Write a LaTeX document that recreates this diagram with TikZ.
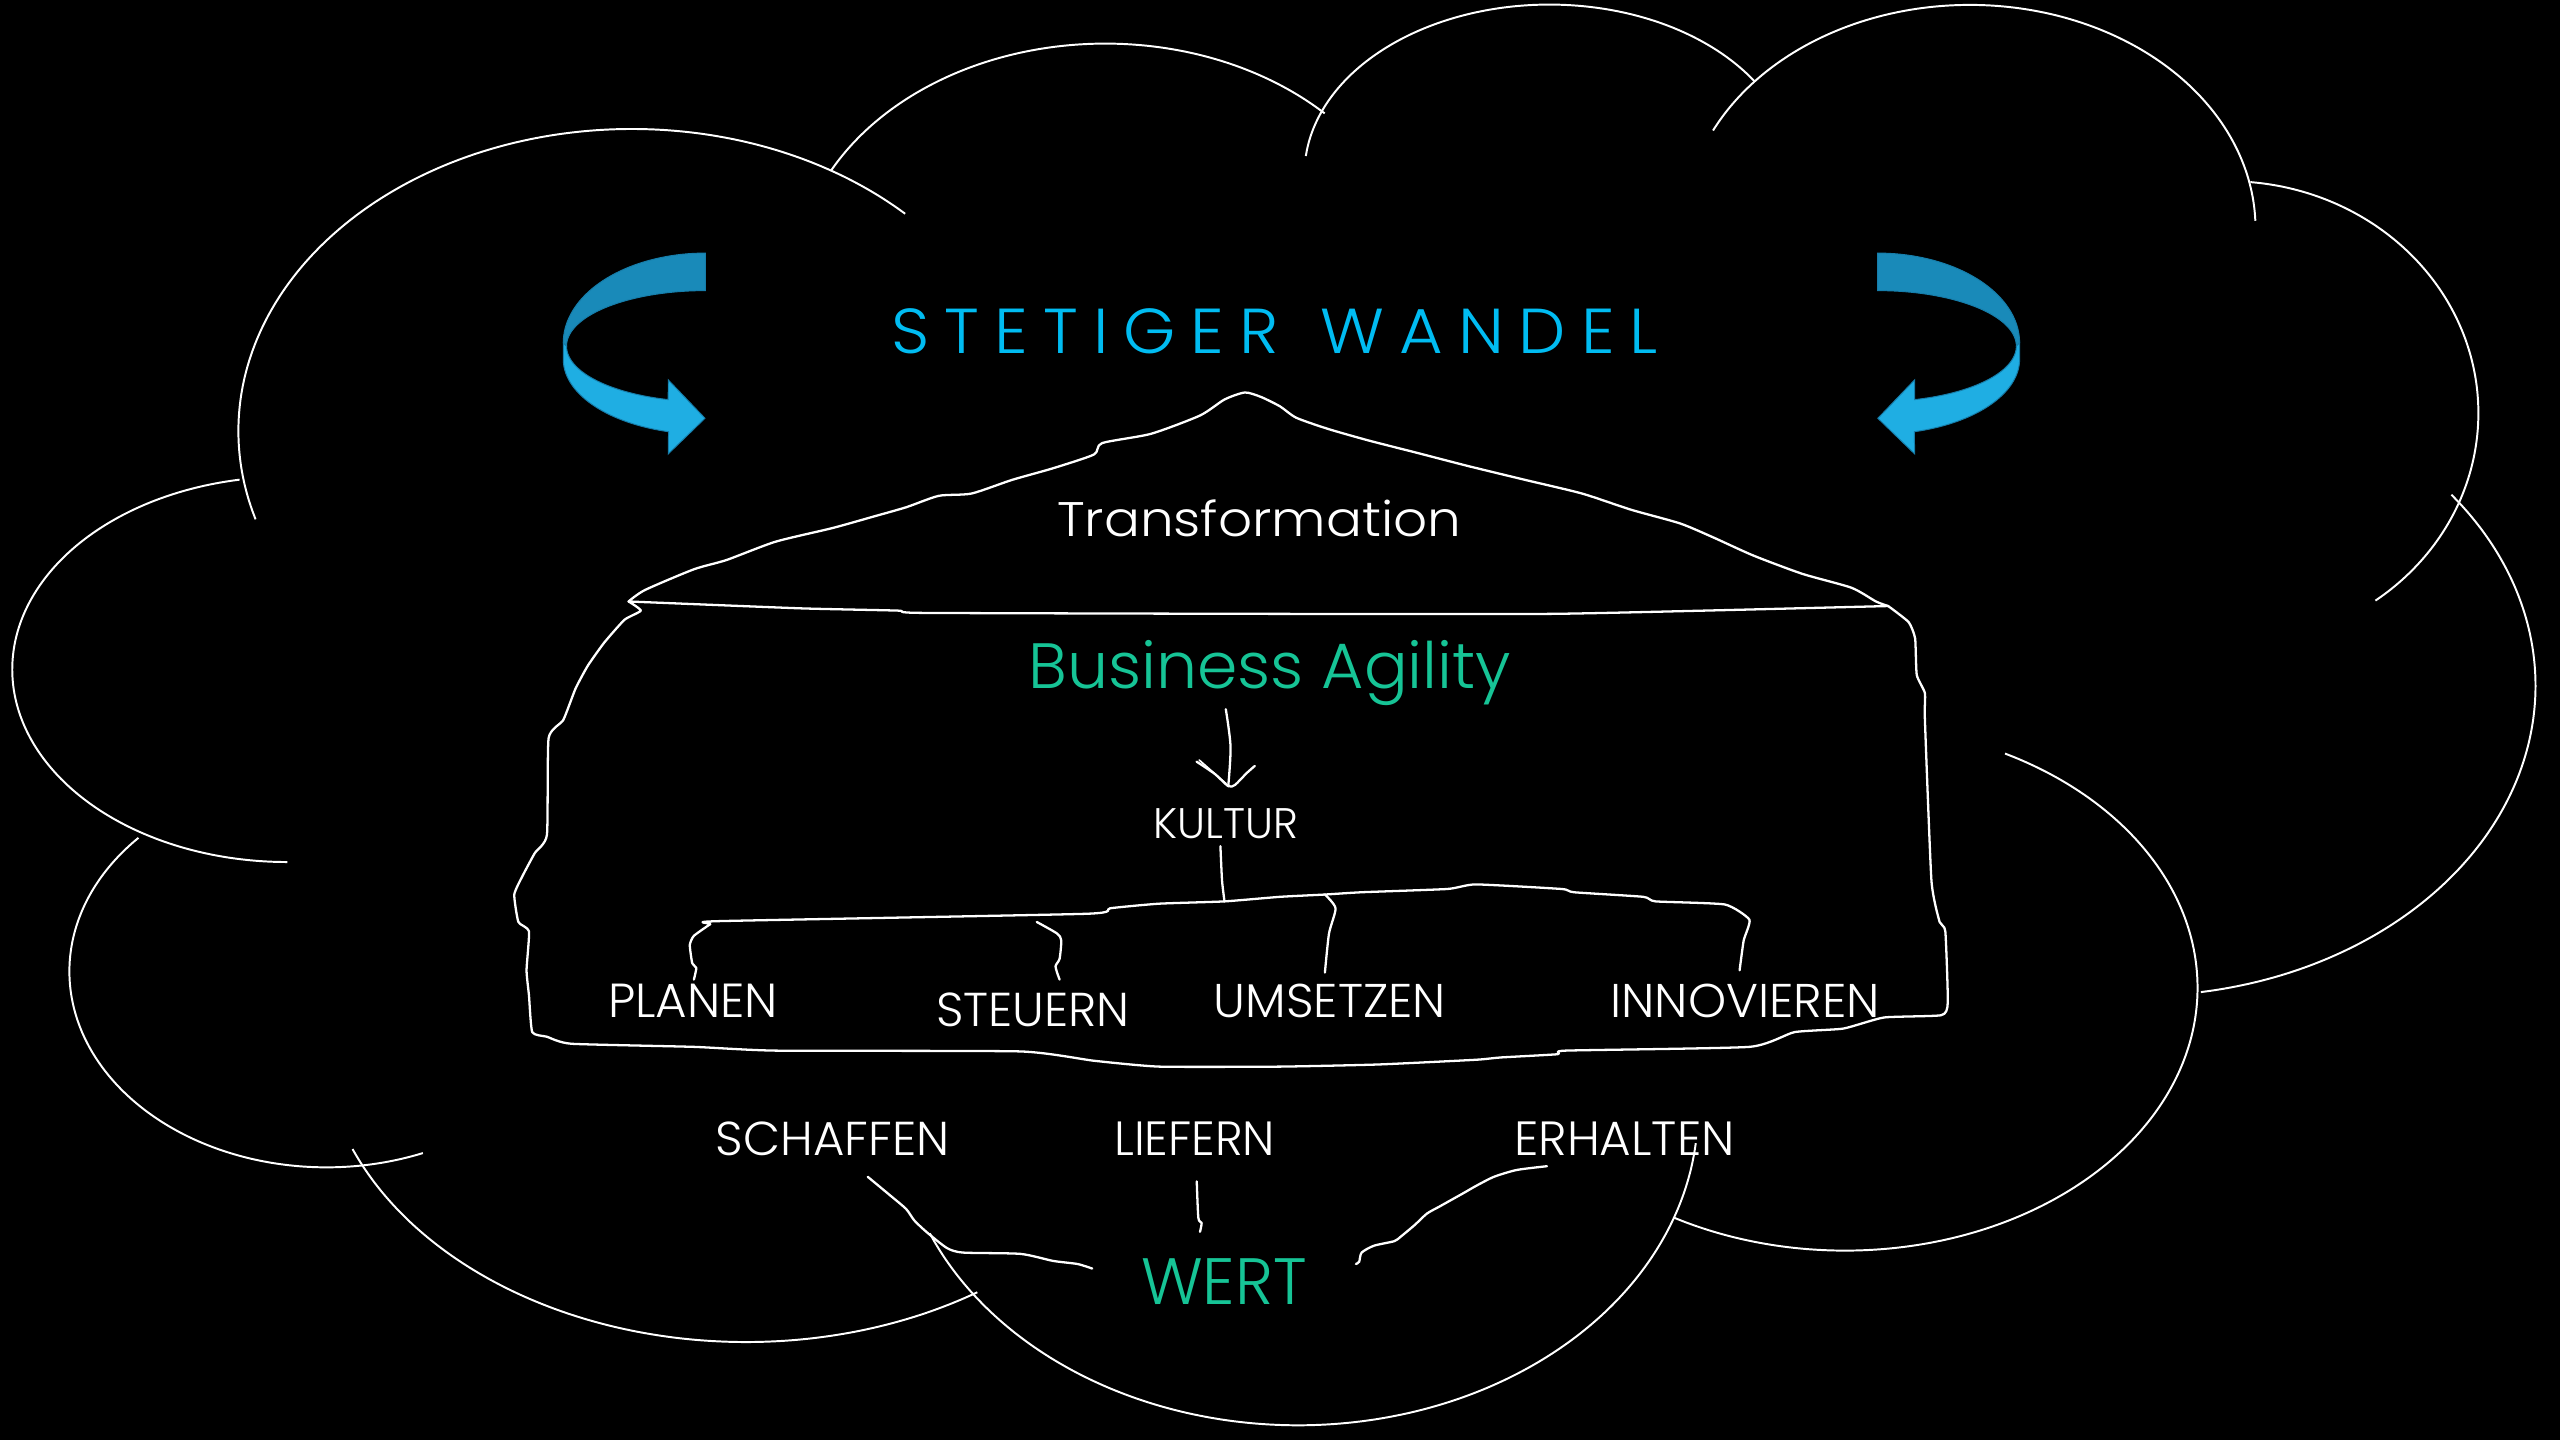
\documentclass[tikz,border=0pt]{standalone}
\usepackage{fontspec}
\usepackage{graphicx}
\IfFontExistsTF{Poppins Light}{\newfontfamily\pf{Poppins Light}}{\newfontfamily\pf{Poppins}}
\definecolor{ttl}{RGB}{0,188,242}
\definecolor{grn}{RGB}{22,196,150}
\definecolor{bdark}{RGB}{25,138,185}
\definecolor{blight}{RGB}{31,174,227}
\definecolor{bedge}{RGB}{22,125,170}
\newcommand\fitbox[3]{\resizebox{#1pt}{#2pt}{#3}}
\newcommand\K{\kern 9pt}
\newcommand\carc[6]{\draw[cloud] plot[domain=#5:#6, samples=90, smooth] ({#1+#3*cos(\x)},{#2+#4*sin(\x)});}
\newcommand\curvedarrow{%
 \filldraw[bdark, draw=bedge, line width=0.6pt] plot[domain=270:180, samples=40] ({432+87*cos(\x)},{210+55*sin(\x)}) -- plot[domain=180:270, samples=40] ({432+85*cos(\x)},{212+34*sin(\x)}) -- cycle;
 \filldraw[blight, draw=bedge, line width=0.6pt] (345,210) -- plot[domain=180:105, samples=40] ({432+87*cos(\x)},{220+46*sin(\x)}) -- (409.3,278) -- (431.8,256.2) -- (409.3,232.7) -- plot[domain=105.5:180, samples=40] ({432+85*cos(\x)},{212+34*sin(\x)}) -- cycle;
}
\begin{document}
\begin{tikzpicture}[x=1pt,y=-1pt,
  cloud/.style={draw=white, line width=1.2pt},
  hand/.style={draw=white, line width=1.4pt, line join=round, line cap=round},
  lbl/.style={anchor=base west, inner sep=0pt, outer sep=0pt, text=white, font=\pf\fontsize{40}{40}\selectfont}]
\fill[black] (0,0) rectangle (1568,882);
\useasboundingbox (0,0) rectangle (1568,882);

% cloud
\carc{387}{264}{241}{185}{163}{314}
\carc{677}{172.7}{190}{146}{208}{315}
\carc{949}{106.4}{150}{103.6}{186}{327}
\carc{1206.5}{140}{175}{137}{206}{358}
\carc{1365}{253}{153}{142}{275}{414}
\carc{1310}{420}{243}{190}{-38}{81}
\carc{1130}{605}{216}{161}{-63}{119}
\carc{795}{680}{245}{193}{6}{157}
\carc{457}{633}{260}{189}{57}{158}
\carc{200}{595}{157.5}{120}{68}{223}
\carc{176}{410}{168.5}{118}{260}{90}

% curved arrows
\curvedarrow
\begin{scope}[shift={(1582,0)}, xscale=-1]
\curvedarrow
\end{scope}

% texts
\node[lbl, text=ttl] (title) at (546,216.5) {\fitbox{469.5}{27.5}{S\K T\K E\K T\K I\K G\K E\K R\K\kern16pt W\K A\K N\K D\K E\K L}};
\node[lbl] (trans) at (647.5,328.5) {\fitbox{247.5}{22.5}{Transformation}};
\node[lbl, text=grn] (ba) at (630,421.8) {\fitbox{295.5}{29.5}{Business Agility}};
\node[lbl] (kultur) at (706.5,513.6) {\fitbox{88.5}{18.3}{KULTUR}};
\node[lbl] (planen) at (372.5,623.2) {\fitbox{104}{20.5}{PLANEN}};
\node[lbl] (steuern) at (573.5,628.9) {\fitbox{118.5}{20.6}{STEUERN}};
\node[lbl] (umsetzen) at (743.5,623.2) {\fitbox{142}{20.5}{UMSETZEN}};
\node[lbl] (innov) at (986.5,623.2) {\fitbox{165}{20.5}{INNOVIEREN}};
\node[lbl] (schaffen) at (438.5,707.6) {\fitbox{143}{20.6}{SCHAFFEN}};
\node[lbl] (liefern) at (682.5,707.6) {\fitbox{98.5}{20.6}{LIEFERN}};
\node[lbl] (erhalten) at (927.5,707.6) {\fitbox{135}{20.6}{ERHALTEN}};
\node[lbl, text=grn] (wert) at (699,798.7) {\fitbox{101.5}{28.1}{WERT}};

% house: roof
\coordinate (roofL) at (385,368.4);
\coordinate (roofR) at (1156.5,371.2);
\draw[hand] plot[smooth, tension=0.4] coordinates {(roofL) (395,361.4) (425,348.7) (445,343) (475,331.8) (510,323.4) (535,316.4) (555,310.7) (575,303.7) (595,302.3) (620,293.9) (645,286.8) (670,278.4) (675,271.4) (705,265.7) (735,254.5) (750,244.7) (762.5,240.4) (772.5,243.2) (784,248.9) (794,255.9) (814,262.9) (839,270) (866.5,277) (899,285.4) (934,293.9) (969,302.3) (999,312.2) (1029,320.6) (1049,329) (1074,340.3) (1104,351.5) (1134,360) (1149,368.4) (roofR)};
\draw[hand] plot[smooth, tension=0.3] coordinates {(roofL) (490,372.6) (550,374) (565,375.4) (784,376) (949,376) (1044,374) (roofR)};
% house: walls and floor
\draw[hand] plot[smooth, tension=0.3] coordinates {(roofL) (392.5,374) (382.5,379.6) (370,393.7) (360,407.8) (352.5,421.8) (345,441) (336,452.2) (335,511.3) (327.5,522.6) (320,536.6) (315,547.9) (317.5,564.7) (324,570.4) (322.5,594.3) (324,609.7) (326,632.2) (335,635) (350,639.3) (425,641.2) (475,643.5) (625,644) (670,649.7) (710,653.3) (784,653.3) (844,652) (904,649.1) (919,647.7) (954,645.7) (959,643.5) (1071.5,641.2) (1099,632.2) (1129,630) (1154,623.2) (1189,621.8) (1193,614) (1191.5,570.4) (1188,564.7) (1183,539.4) (1179,441) (1179,424.6) (1174,413.4) (1173,391) (1169,381) (roofR)};

% Business Agility -> KULTUR
\coordinate (baS) at (750.8,434.4);
\coordinate (kuN) at (752.3,481.5);
\draw[hand] plot[smooth, tension=0.5] coordinates {(baS) (753.7,457.3) (kuN)};
\draw[hand] plot[smooth, tension=0.4] coordinates {(732.9,466.5) (744,474) (kuN) (756.4,480.8) (763.5,473.6) (768.6,469.1)};
\draw[hand, line width=1pt] (734.5,465.5) -- (751,480);

% tree under KULTUR
\coordinate (kuS) at (747.5,518.3);
\coordinate (br) at (750,552.1);
\coordinate (plN) at (425,600);
\coordinate (inN) at (1065.5,594.3);
\coordinate (stN) at (649,600);
\coordinate (umN) at (811.5,595.7);
\draw[hand] plot[smooth, tension=0.4] coordinates {(kuS) (748.5,539.4) (br)};
\draw[hand] plot[smooth, tension=0.3] coordinates {(plN) (426.5,592.9) (424,590) (422.5,578.8) (425,573.2) (435,566.1) (440,564.2) (665,559.7) (680,556.3) (710,553.5) (br) (784,549.3) (811.5,547.9) (834,546.5) (886.5,544.5) (904,541.7) (956.5,544.5) (964,546.5) (1006.5,549.3) (1014,552.1) (1056.5,554) (1071.5,563.3) (1068,576) (inN)};
\draw[hand] plot[smooth, tension=0.4] coordinates {(635,564.7) (647.5,571.8) (650,576) (649,587.2) (646.5,592) (stN)};
\draw[hand] plot[smooth, tension=0.4] coordinates {(811.5,547.9) (818,556.3) (814,571.8) (umN)};

% connectors to WERT
\coordinate (scS) at (531.5,720.8);
\coordinate (weL) at (669,777);
\coordinate (liS) at (733,723.6);
\coordinate (weT) at (735,754.5);
\coordinate (erS) at (947.5,714.3);
\coordinate (weR) at (830.5,774.2);
\draw[hand] plot[smooth, tension=0.4] coordinates {(scS) (545,732) (555,740.5) (560,747.5) (567.5,754.6) (580,764.4) (590,767.2) (625,768) (645,772.3) (660,774.2) (weL)};
\draw[hand] plot[smooth, tension=0.4] coordinates {(liS) (734,746.1) (736,749) (weT)};
\draw[hand] plot[smooth, tension=0.4] coordinates {(erS) (929,716.6) (915,720.8) (904,726.4) (896.5,730.7) (889,734.9) (881.5,739.1) (874,743.3) (866.5,750.3) (858,757.4) (854,760.2) (841.5,763) (834,767.2) (832.5,772.8) (weR)};
\end{tikzpicture}
\end{document}
